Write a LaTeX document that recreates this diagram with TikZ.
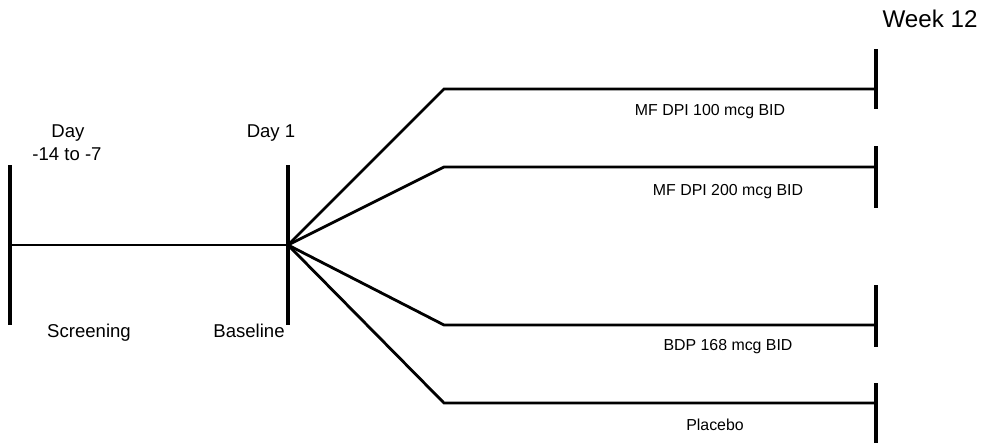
\documentclass[tikz,border=0pt]{standalone}
\usepackage{fontspec}
\setmainfont{Liberation Sans}
\usetikzlibrary{positioning}
\tikzset{
  armline/.style={line width=2pt, line join=miter},
  barline/.style={line width=2.2pt},
  armlabel/.style={font=\fontsize{11.3}{13}\selectfont, anchor=base, inner sep=0pt},
  daylabel/.style={font=\fontsize{13.2}{15}\selectfont, anchor=base, inner sep=0pt},
}
\begin{document}
\begin{tikzpicture}[x=0.25mm, y=-0.25mm]
  \useasboundingbox (0,0) rectangle (984,443);
  \coordinate (scr) at (10,245);
  \coordinate (hub) at (288,245);
  \draw[barline] (10,165) -- (10,325);
  \draw[barline] (288,165) -- (288,325);
  \draw[armline] (scr) -- (hub);
  \node[daylabel] (day) at (68,137) {Day};
  \node[daylabel] (dayrange) at (67,160) {-14 to -7};
  \node[daylabel] (dayone) at (271,137) {Day 1};
  \node[daylabel] (screen) at (89,337) {Screening};
  \node[daylabel] (base) at (249,337) {Baseline};
  \node[anchor=base, inner sep=0pt, font=\fontsize{17.2}{20}\selectfont] (week) at (930,28) {Week 12};
  \foreach \i/\y/\ya/\yb/\lx/\ly/\txt in {
      1/89/49/109/710/115/MF DPI 100 mcg BID,
      2/167/146/208/728/195/MF DPI 200 mcg BID,
      3/325/285/347/728/350/BDP 168 mcg BID,
      4/403/383/443/715/430/Placebo} {
    \coordinate (k\i) at (444,\y);
    \coordinate (e\i) at (876,\y);
    \draw[armline] (hub) -- (k\i) -- (e\i);
    \draw[barline] (876,\ya) -- (876,\yb);
    \node[armlabel] (lab\i) at (\lx,\ly) {\txt};
  }
\end{tikzpicture}
\end{document}
